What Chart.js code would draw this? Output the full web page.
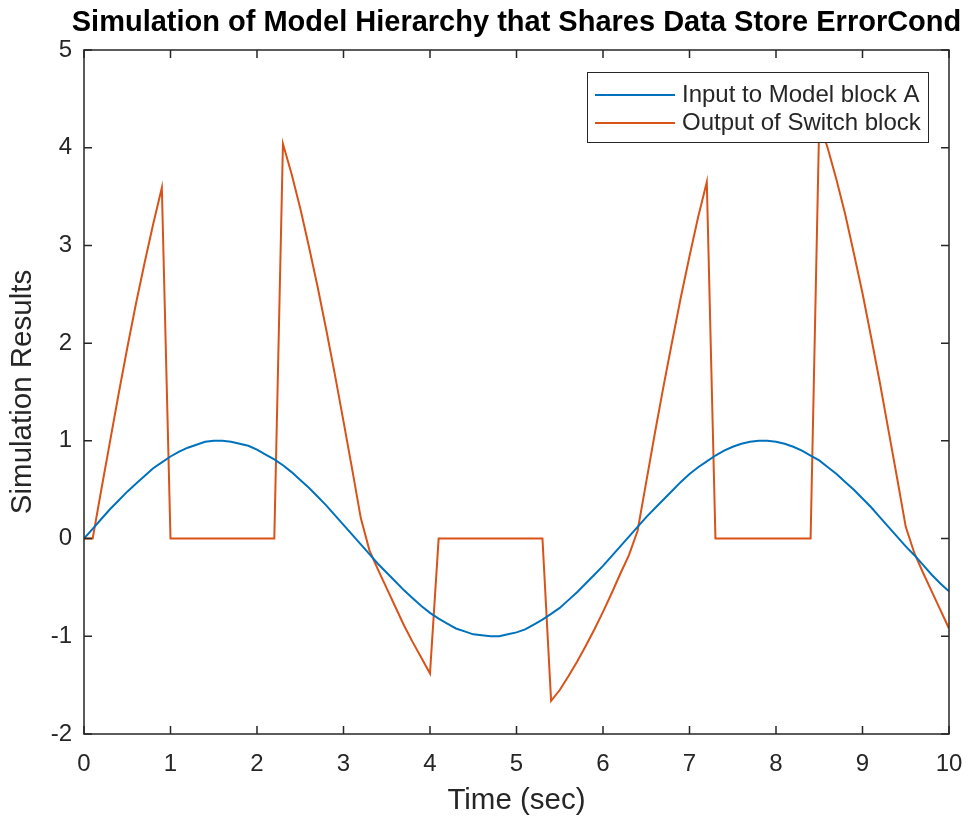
<!DOCTYPE html>
<html>
<head>
<meta charset="utf-8">
<script src="https://cdn.jsdelivr.net/npm/chart.js@4.4.1/dist/chart.umd.min.js"></script>
<style>
  html, body { margin: 0; padding: 0; background: #fff; }
  #wrap { width: 969px; height: 820px; }
</style>
</head>
<body>
<div id="wrap"><canvas id="sim"></canvas></div>
<script>
const titleText = 'Simulation of Model Hierarchy that Shares Data Store ErrorCond';
const xLabel = 'Time (sec)';
const yLabel = 'Simulation Results';
const seriesNames = ['Input to Model block A', 'Output of Switch block'];

// sample times (sec)
const times = [
  0, 0.1, 0.2, 0.3, 0.4, 0.5, 0.6, 0.7, 0.8, 0.9,
  1, 1.1, 1.2, 1.3, 1.4, 1.5, 1.6, 1.7, 1.8, 1.9,
  2, 2.1, 2.2, 2.3, 2.4, 2.5, 2.6, 2.7, 2.8, 2.9,
  3, 3.1, 3.2, 3.3, 3.4, 3.5, 3.6, 3.7, 3.8, 3.9,
  4, 4.1, 4.2, 4.3, 4.4, 4.5, 4.6, 4.7, 4.8, 4.9,
  5, 5.1, 5.2, 5.3, 5.4, 5.5, 5.6, 5.7, 5.8, 5.9,
  6, 6.1, 6.2, 6.3, 6.4, 6.5, 6.6, 6.7, 6.8, 6.9,
  7, 7.1, 7.2, 7.3, 7.4, 7.5, 7.6, 7.7, 7.8, 7.9,
  8, 8.1, 8.2, 8.3, 8.4, 8.5, 8.6, 8.7, 8.8, 8.9,
  9, 9.1, 9.2, 9.3, 9.4, 9.5, 9.6, 9.7, 9.8, 9.9,
  10
];

// input to model block A
const inputA = [
  0, 0.10, 0.20, 0.30, 0.39, 0.48, 0.56, 0.64, 0.72, 0.78,
  0.84, 0.89, 0.93, 0.96, 0.99, 1.00, 1.00, 0.99, 0.97, 0.95,
  0.91, 0.86, 0.81, 0.75, 0.68, 0.60, 0.52, 0.43, 0.34, 0.24,
  0.14, 0.04, -0.06, -0.16, -0.26, -0.35, -0.44, -0.53, -0.61, -0.69,
  -0.76, -0.82, -0.87, -0.92, -0.95, -0.98, -0.99, -1.00, -1.00, -0.98,
  -0.96, -0.93, -0.88, -0.83, -0.77, -0.71, -0.63, -0.55, -0.46, -0.37,
  -0.28, -0.18, -0.08, 0.02, 0.12, 0.22, 0.31, 0.40, 0.49, 0.58,
  0.66, 0.73, 0.79, 0.85, 0.90, 0.94, 0.97, 0.99, 1.00, 1.00,
  0.99, 0.97, 0.94, 0.90, 0.85, 0.80, 0.73, 0.66, 0.58, 0.50,
  0.41, 0.32, 0.22, 0.12, 0.02, -0.08, -0.17, -0.27, -0.37, -0.46,
  -0.54
];

// output of switch block
const switchOut = [
  0, 0, 0.50, 0.99, 1.48, 1.95, 2.40, 2.82, 3.22, 3.59,
  0, 0, 0, 0, 0, 0, 0, 0, 0, 0,
  0, 0, 0, 4.04, 3.73, 3.38, 2.99, 2.58, 2.14, 1.68,
  1.20, 0.71, 0.21, -0.12, -0.32, -0.51, -0.70, -0.89, -1.06, -1.22,
  -1.38, 0, 0, 0, 0, 0, 0, 0, 0, 0,
  0, 0, 0, 0, -1.66, -1.55, -1.41, -1.26, -1.10, -0.93,
  -0.75, -0.56, -0.36, -0.17, 0.08, 0.58, 1.08, 1.56, 2.02, 2.47,
  2.89, 3.29, 3.65, 0, 0, 0, 0, 0, 0, 0,
  0, 0, 0, 0, 0, 4.27, 3.99, 3.67, 3.32, 2.92,
  2.51, 2.06, 1.60, 1.11, 0.62, 0.12, -0.15, -0.35, -0.54, -0.73,
  -0.92
];

const xRange = [0, 10];
const yRange = [-2, 5];

const axisColor = '#262626';
const colors = ['#0072BD', '#D95319'];
const fontFamily = '"Liberation Sans", Arial, Helvetica, sans-serif';

const toPoints = vals => vals.map((v, i) => ({ x: times[i], y: v }));

// title, box, inward ticks and the legend drawn inside the axes like matlab does
const matlabFrame = {
  id: 'matlabFrame',
  afterDatasetsDraw(chart) {
    const { ctx, chartArea } = chart;
    const w = 341, h = 70;
    const x0 = chartArea.right - 21 - w;
    const y0 = chartArea.top + 22;
    ctx.save();
    ctx.fillStyle = '#fff';
    ctx.fillRect(x0, y0, w, h);
    ctx.strokeStyle = axisColor;
    ctx.lineWidth = 1;
    ctx.strokeRect(x0 + 0.5, y0 + 0.5, w, h);
    ctx.font = '24px ' + fontFamily;
    ctx.textBaseline = 'middle';
    chart.data.datasets.forEach((ds, i) => {
      const yy = y0 + 23 + i * 28;
      ctx.strokeStyle = ds.borderColor;
      ctx.lineWidth = 2;
      ctx.beginPath();
      ctx.moveTo(x0 + 8, yy);
      ctx.lineTo(x0 + 88, yy);
      ctx.stroke();
      ctx.fillStyle = axisColor;
      ctx.fillText(ds.label, x0 + 95, yy);
    });
    ctx.restore();
  },
  afterDraw(chart) {
    const { ctx, chartArea: a, scales } = chart;
    const tick = 8;
    ctx.save();
    ctx.strokeStyle = axisColor;
    ctx.lineWidth = 1.5;
    ctx.strokeRect(a.left, a.top, a.right - a.left, a.bottom - a.top);
    ctx.beginPath();
    scales.x.ticks.forEach(t => {
      const px = scales.x.getPixelForValue(t.value);
      ctx.moveTo(px, a.bottom); ctx.lineTo(px, a.bottom - tick);
      ctx.moveTo(px, a.top); ctx.lineTo(px, a.top + tick);
    });
    scales.y.ticks.forEach(t => {
      const py = scales.y.getPixelForValue(t.value);
      ctx.moveTo(a.left, py); ctx.lineTo(a.left + tick, py);
      ctx.moveTo(a.right, py); ctx.lineTo(a.right - tick, py);
    });
    ctx.stroke();

    // title centred over the axes, allowed to run past them
    ctx.fillStyle = '#000';
    ctx.font = 'bold 29px ' + fontFamily;
    ctx.textAlign = 'center';
    ctx.textBaseline = 'middle';
    ctx.fillText(titleText, (a.left + a.right) / 2, 23);
    ctx.restore();
  }
};

const chart = new Chart(document.getElementById('sim'), {
  type: 'line',
  data: {
    datasets: [
      {
        label: seriesNames[0],
        data: toPoints(inputA),
        borderColor: colors[0],
        borderWidth: 2,
        pointRadius: 0,
        tension: 0
      },
      {
        label: seriesNames[1],
        data: toPoints(switchOut),
        borderColor: colors[1],
        borderWidth: 2,
        pointRadius: 0,
        tension: 0
      }
    ]
  },
  options: {
    responsive: true,
    maintainAspectRatio: false,
    animation: false,
    layout: { padding: { left: 0, right: 20, top: 50, bottom: 0 } },
    scales: {
      x: {
        type: 'linear',
        min: xRange[0],
        max: xRange[1],
        afterFit(scale) {
          scale.height = 86;
          scale.paddingLeft = 0;
          scale.paddingRight = 0;
        },
        grid: { display: false, drawTicks: false },
        border: { display: false },
        ticks: {
          stepSize: 1,
          padding: 16,
          color: axisColor,
          font: { family: fontFamily, size: 24 }
        },
        title: {
          display: true,
          text: xLabel,
          color: axisColor,
          padding: { top: 0, bottom: 1 },
          font: { family: fontFamily, size: 29.5 }
        }
      },
      y: {
        min: yRange[0],
        max: yRange[1],
        afterFit(scale) {
          scale.width = 84;
          scale.paddingTop = 0;
          scale.paddingBottom = 0;
        },
        grid: { display: false, drawTicks: false },
        border: { display: false },
        ticks: {
          stepSize: 1,
          padding: 12,
          color: axisColor,
          font: { family: fontFamily, size: 24 }
        },
        title: {
          display: true,
          text: yLabel,
          color: axisColor,
          padding: { top: 5, bottom: 0 },
          font: { family: fontFamily, size: 29.5 }
        }
      }
    },
    plugins: {
      legend: { display: false },
      tooltip: { enabled: false },
      title: { display: false }
    }
  },
  plugins: [matlabFrame]
});
</script>
</body>
</html>
